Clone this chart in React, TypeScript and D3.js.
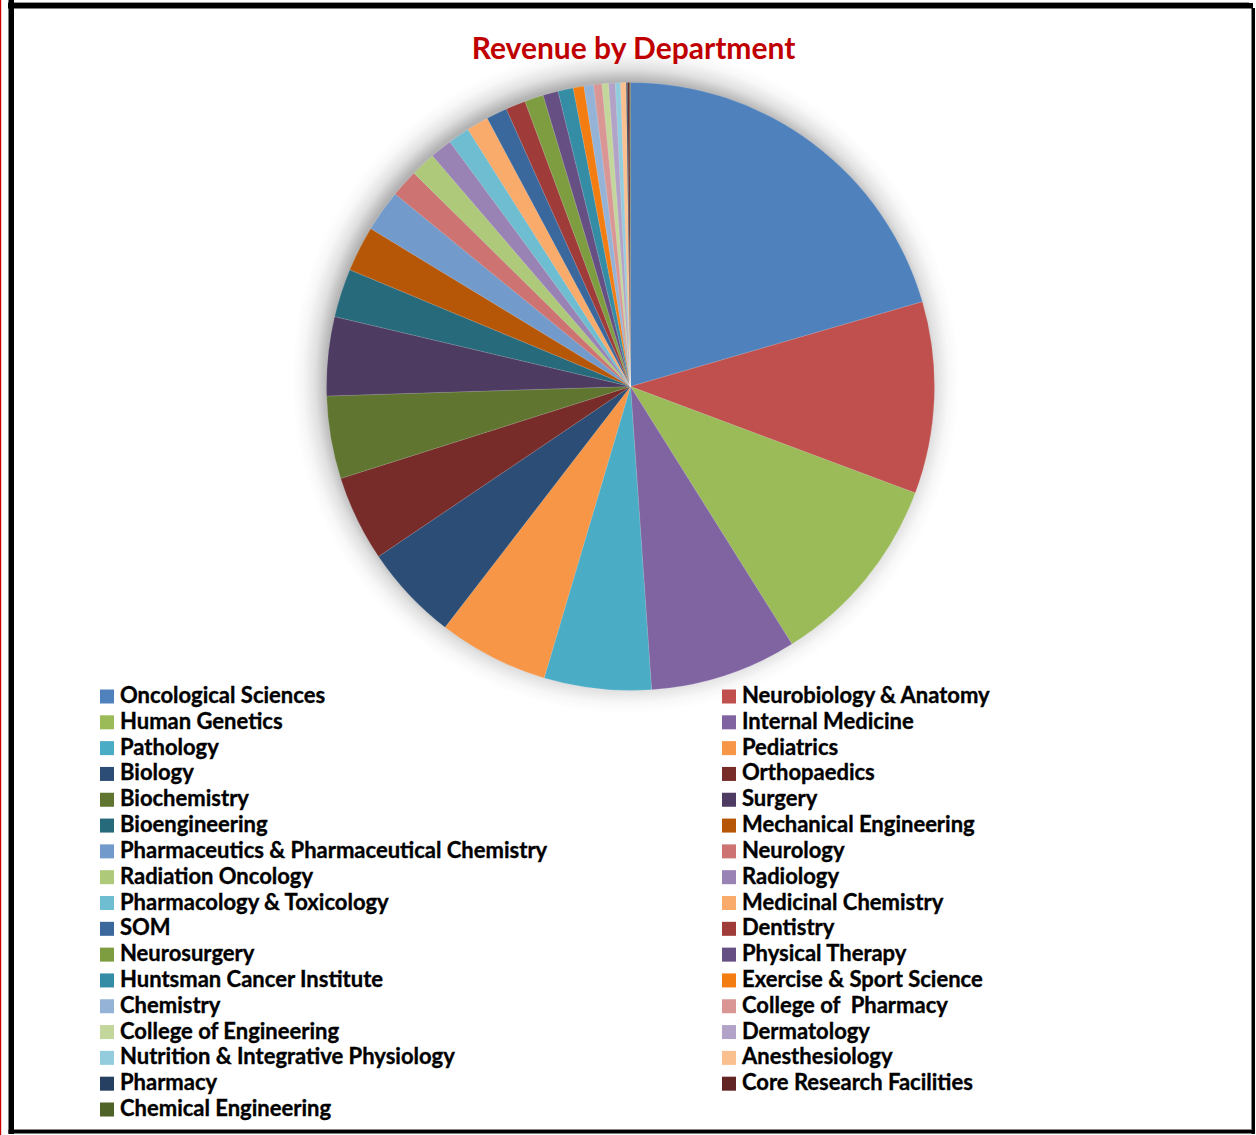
import React from "react";
import * as d3 from "d3";

// Department names in legend / slice order
const departments: string[] = [
  "Oncological Sciences",
  "Neurobiology & Anatomy",
  "Human Genetics",
  "Internal Medicine",
  "Pathology",
  "Pediatrics",
  "Biology",
  "Orthopaedics",
  "Biochemistry",
  "Surgery",
  "Bioengineering",
  "Mechanical Engineering",
  "Pharmaceutics & Pharmaceutical Chemistry",
  "Neurology",
  "Radiation Oncology",
  "Radiology",
  "Pharmacology & Toxicology",
  "Medicinal Chemistry",
  "SOM",
  "Dentistry",
  "Neurosurgery",
  "Physical Therapy",
  "Huntsman Cancer Institute",
  "Exercise & Sport Science",
  "Chemistry",
  "College of  Pharmacy",
  "College of Engineering",
  "Dermatology",
  "Nutrition & Integrative Physiology",
  "Anesthesiology",
  "Pharmacy",
  "Core Research Facilities",
  "Chemical Engineering",
];

// Share of total revenue (%)
const revenueShare: number[] = [
  20.5, 10.2, 10.39, 7.81, 5.69, 5.86, 5.11, 4.56, 4.39, 4.19, 2.58, 2.42,
  2.22, 1.47, 1.33, 1.17, 1.14, 1.17, 1.11, 1.06, 1.0, 0.81, 0.81, 0.57,
  0.51, 0.44, 0.35, 0.35, 0.28, 0.3, 0.07, 0.11, 0.04,
];

const sliceColors: string[] = [
  "#4F81BD", "#C0504D", "#9BBB59", "#8064A2", "#4BACC6", "#F79646",
  "#2C4D75", "#772C2A", "#5F7530", "#4D3B62", "#276A7C", "#B65708",
  "#729ACA", "#CD7371", "#AFC97A", "#9983B5", "#6FBDD1", "#F9AB6B",
  "#3A679C", "#9F3B38", "#7E9D40", "#664F83", "#358DA5", "#F37D11",
  "#95B3D7", "#D99694", "#C3D69B", "#B3A2C7", "#93CDDD", "#FAC090",
  "#254061", "#632523", "#4F6228",
];

const chartTitle = "Revenue by Department";

const W = 1256;
const H = 1135;
const cx = 630.5;
const cy = 386.5;
const radius = 304;
const haloWidth = 30;

const FONT = "Lato, 'Open Sans', sans-serif";

export default function App() {
  const slices = d3
    .pie<number>()
    .sort(null)
    .startAngle(0)
    .endAngle(2 * Math.PI)
    .value((d) => d)(revenueShare);

  const arcGen = d3.arc<d3.PieArcDatum<number>>().innerRadius(0).outerRadius(radius);

  const rows = Math.ceil(departments.length / 2);
  const legendY = d3.scaleLinear().domain([0, rows - 1]).range([703, 1116]);
  const colX = [100, 722];

  const haloR = radius + haloWidth;
  const edge = (radius - 6) / haloR;

  return (
    <svg
      width={W}
      height={H}
      viewBox={`0 0 ${W} ${H}`}
      style={{ position: "absolute", left: 0, top: 0, background: "#fff" }}
    >
      <defs>
        <radialGradient id="pieHalo" cx="50%" cy="50%" r="50%">
          <stop offset={0} stopColor="#000" stopOpacity={0.3} />
          <stop offset={edge} stopColor="#000" stopOpacity={0.3} />
          <stop offset={edge + (1 - edge) * 0.35} stopColor="#000" stopOpacity={0.12} />
          <stop offset={edge + (1 - edge) * 0.7} stopColor="#000" stopOpacity={0.03} />
          <stop offset={1} stopColor="#000" stopOpacity={0} />
        </radialGradient>
      </defs>

      {/* page frame */}
      <rect x={0} y={0} width={1.2} height={H} fill="#d00000" />
      <rect x={8} y={2} width={1241} height={1} fill="#999" />
      <rect x={8} y={3} width={1245} height={5.5} fill="#000" />
      <rect x={8.5} y={0} width={5.5} height={1134} fill="#000" />
      <rect x={1251.5} y={8} width={3.5} height={1126} fill="#000" />
      <rect x={8.5} y={1130} width={1246.5} height={3.5} fill="#000" />
      <rect x={14} y={1129} width={1237} height={1} fill="#888" />

      {/* soft shadow behind the pie */}
      <circle cx={cx - 5} cy={cy - 7} r={haloR} fill="url(#pieHalo)" />

      <text
        x={633.5}
        y={59}
        textAnchor="middle"
        fontFamily={FONT}
        fontWeight={700}
        fontSize={30}
        fill="#C00000"
      >
        {chartTitle}
      </text>

      <g transform={`translate(${cx},${cy})`}>
        {slices.map((s, i) => (
          <path
            key={departments[i]}
            d={arcGen(s) || ""}
            fill={sliceColors[i]}
            stroke="#ffffff"
            strokeOpacity={0.25}
            strokeWidth={0.5}
          />
        ))}
      </g>

      <g>
        {departments.map((name, i) => {
          const col = i % 2;
          const row = Math.floor(i / 2);
          const y = legendY(row);
          return (
            <g key={name}>
              <rect x={colX[col]} y={y - 13.5} width={14} height={14} fill={sliceColors[i]} />
              <text
                x={colX[col] + 20}
                y={y}
                fontFamily={FONT}
                fontWeight={700}
                fontSize={22}
                fill="#000"
                stroke="#000"
                strokeWidth={0.35}
                style={{ whiteSpace: "pre" }}
              >
                {name}
              </text>
            </g>
          );
        })}
      </g>
    </svg>
  );
}
